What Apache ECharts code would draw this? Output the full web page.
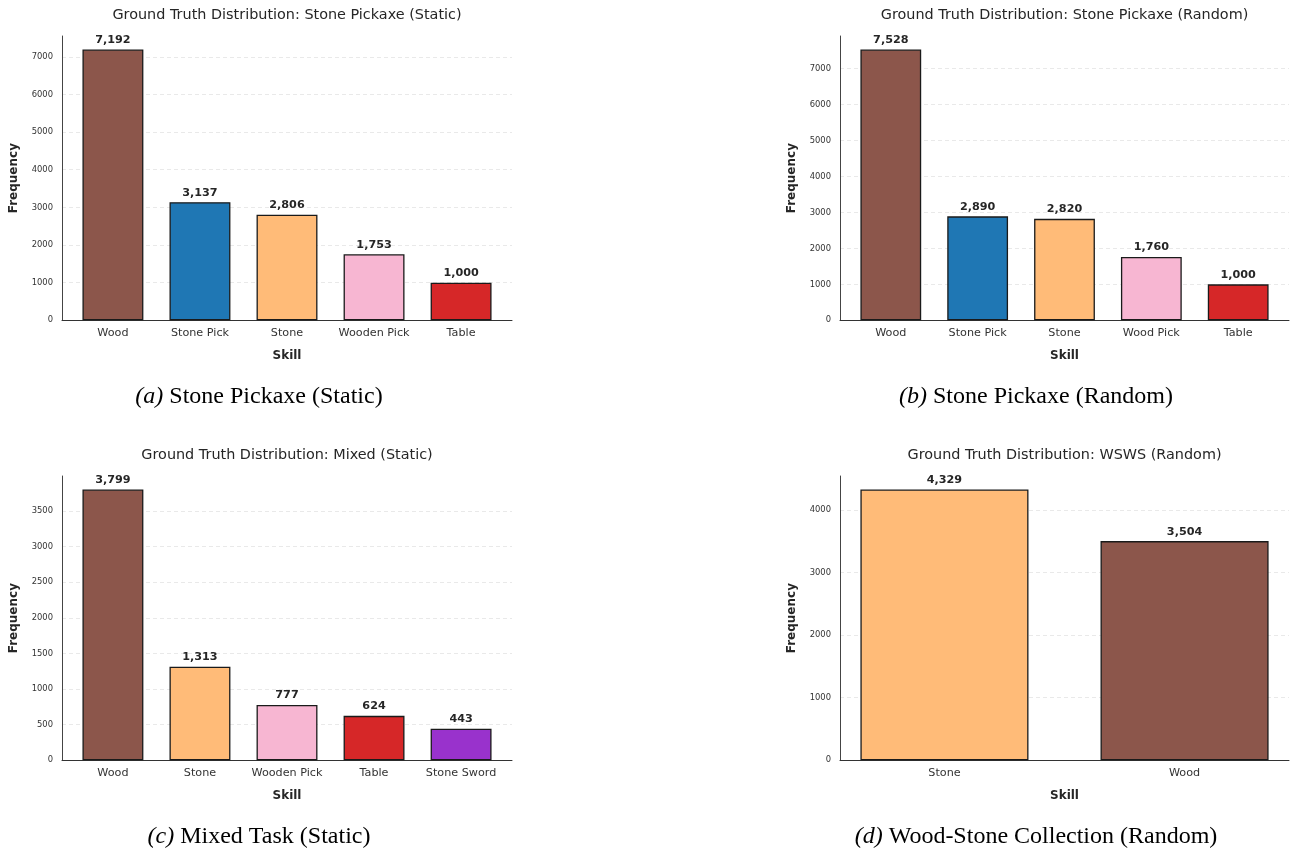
<!DOCTYPE html>
<html>
<head>
<meta charset="utf-8">
<script src="https://cdn.jsdelivr.net/npm/echarts@6/dist/echarts.min.js"></script>
<style>
  html, body { margin: 0; padding: 0; background: #ffffff; }
  #chart { width: 1290px; height: 852px; }
</style>
</head>
<body>
<div id="chart"></div>
<script>
// ---------------- Data ----------------
const catsA = ['Wood', 'Stone Pick', 'Stone', 'Wooden Pick', 'Table'];
const valsA = [7192, 3137, 2806, 1753, 1000];

const catsB = ['Wood', 'Stone Pick', 'Stone', 'Wood Pick', 'Table'];
const valsB = [7528, 2890, 2820, 1760, 1000];

const catsC = ['Wood', 'Stone', 'Wooden Pick', 'Table', 'Stone Sword'];
const valsC = [3799, 1313, 777, 624, 443];

const catsD = ['Stone', 'Wood'];
const valsD = [4329, 3504];

const titles = [
  'Ground Truth Distribution: Stone Pickaxe (Static)',
  'Ground Truth Distribution: Stone Pickaxe (Random)',
  'Ground Truth Distribution: Mixed (Static)',
  'Ground Truth Distribution: WSWS (Random)'
];
const captionTags = ['(a)', '(b)', '(c)', '(d)'];
const captionTexts = ['Stone Pickaxe (Static)', 'Stone Pickaxe (Random)', 'Mixed Task (Static)', 'Wood-Stone Collection (Random)'];

// y axis: max and tick step per panel
const yMax = [7552, 7904, 3989, 4545];
const yStep = [1000, 1000, 500, 1000];

// ---------------- Styles ----------------
const skillColors = {
  'Wood': '#8c564b',
  'Stone Pick': '#1f77b4',
  'Stone': '#ffbb78',
  'Wooden Pick': '#f7b6d2',
  'Wood Pick': '#f7b6d2',
  'Table': '#d62728',
  'Stone Sword': '#9932cc'
};

// layout of each plot area
const layouts = [
  { left: 62,  top: 36,  width: 450, height: 284.3 },
  { left: 840, top: 36,  width: 449, height: 284.3 },
  { left: 62,  top: 476, width: 450, height: 284.3 },
  { left: 840, top: 476, width: 449, height: 284.3 }
];
const captionPos = [[259, 397], [1036, 397], [259, 837], [1036, 837]];

const panels = [
  { cats: catsA, vals: valsA },
  { cats: catsB, vals: valsB },
  { cats: catsC, vals: valsC },
  { cats: catsD, vals: valsD }
];

const TXT = '#262626';
const SANS = 'DejaVu Sans';

const grids = [], xAxes = [], yAxes = [], series = [], graphics = [];

panels.forEach((p, i) => {
  const L = layouts[i];
  const n = p.cats.length;
  // matplotlib-like x limits: bar width 0.7, 5% margins
  const span = (n - 1) + 0.7;
  const xmin = -0.35 - 0.05 * span;
  const xmax = (n - 1) + 0.35 + 0.05 * span;
  const barPx = 0.7 * L.width / (xmax - xmin);

  grids.push({ left: L.left, top: L.top, width: L.width, height: L.height, containLabel: false });

  const cats = p.cats;
  xAxes.push({
    type: 'value',
    gridIndex: i,
    min: xmin,
    max: xmax,
    axisLine: { show: true, onZero: false, lineStyle: { color: '#333333', width: 1 } },
    axisTick: { show: false },
    splitLine: { show: false },
    axisLabel: {
      customValues: cats.map((c, k) => k),
      formatter: (v) => cats[Math.round(v)] || '',
      fontFamily: SANS, fontSize: 11.2, color: '#333333', margin: 7
    },
    name: 'Skill',
    nameLocation: 'middle',
    nameGap: 30,
    nameTextStyle: { fontFamily: SANS, fontSize: 12, fontWeight: 'bold', color: TXT }
  });

  yAxes.push({
    type: 'value',
    gridIndex: i,
    min: 0,
    max: yMax[i],
    interval: yStep[i],
    axisLine: { show: true, onZero: false, lineStyle: { color: '#444444', width: 1 } },
    axisTick: { show: false },
    splitLine: { show: true, showMaxLine: false, showMinLine: false, lineStyle: { color: '#e3e3e3', type: [4, 3], width: 0.8 } },
    axisLabel: {
      showMaxLabel: false,
      formatter: (v) => String(Math.round(v)),
      fontFamily: SANS, fontSize: 8.4, color: '#333333', margin: 9
    },
    name: 'Frequency',
    nameLocation: 'middle',
    nameGap: 42,
    nameTextStyle: { fontFamily: SANS, fontSize: 12, fontWeight: 'bold', color: TXT }
  });

  series.push({
    type: 'bar',
    xAxisIndex: i,
    yAxisIndex: i,
    barWidth: barPx,
    data: p.vals.map((v, k) => ({
      value: [k, v],
      itemStyle: { color: skillColors[cats[k]] }
    })),
    itemStyle: { borderColor: '#1a1a1a', borderWidth: 1.3 },
    label: {
      show: true,
      position: 'top',
      distance: 4,
      formatter: (prm) => prm.value[1].toLocaleString('en-US'),
      fontFamily: SANS, fontSize: 11.2, fontWeight: 'bold', color: TXT
    },
    emphasis: { disabled: true },
    animation: false
  });

  // chart title
  graphics.push({
    type: 'text',
    x: L.left + L.width / 2,
    y: L.top - 20.3,
    style: {
      text: titles[i],
      fill: TXT,
      font: '14.4px "DejaVu Sans"',
      textAlign: 'center',
      textVerticalAlign: 'middle'
    }
  });

  // subfigure caption
  graphics.push({
    type: 'text',
    x: captionPos[i][0],
    y: captionPos[i][1],
    style: {
      text: '{it|' + captionTags[i] + '} ' + captionTexts[i],
      fill: '#000000',
      fontFamily: 'Liberation Serif',
      fontSize: 24,
      textAlign: 'center',
      textVerticalAlign: 'middle',
      rich: {
        it: { fontStyle: 'italic', fontFamily: 'Liberation Serif', fontSize: 24, fill: '#000000' }
      }
    }
  });
});

const chart = echarts.init(document.getElementById('chart'), null, { renderer: 'canvas' });
chart.setOption({
  backgroundColor: '#ffffff',
  animation: false,
  grid: grids,
  xAxis: xAxes,
  yAxis: yAxes,
  series: series,
  graphic: graphics
});
</script>
</body>
</html>
